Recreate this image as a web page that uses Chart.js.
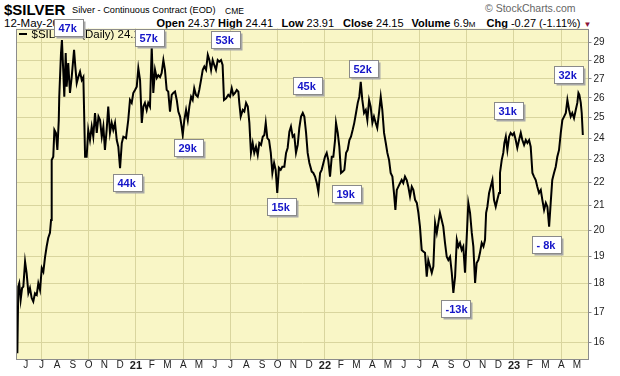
<!DOCTYPE html>
<html>
<head>
<meta charset="UTF-8">
<title>$SILVER</title>
<script src="https://cdn.jsdelivr.net/npm/chart.js"></script>
<style>
	html, body { margin: 0; padding: 0; background: #fff; }
	body { width: 620px; height: 376px; position: relative; overflow: hidden; font-family: "Liberation Sans", Arial, sans-serif; color: #000; }
	.hdr { position: absolute; white-space: nowrap; line-height: 1; z-index: 0; }
	#c { position: absolute; left: 0; top: 0; z-index: 1; }
</style>
</head>
<body>
<div class="hdr" style="left:4px;top:1.5px;font-size:15px;font-weight:bold">$SILVER</div>
<div class="hdr" style="left:72px;top:6px;font-size:9.2px">Silver - Continuous Contract (EOD)</div>
<div class="hdr" style="left:225px;top:7px;font-size:8.5px">CME</div>
<div class="hdr" style="left:485px;top:3px;font-size:10.5px;color:#666">&copy; StockCharts.com</div>
<div class="hdr" style="left:4px;top:17.5px;font-size:11.5px">12-May-2023</div>
<div class="hdr" style="left:156.5px;top:18px;font-size:11px"><b>Open</b> 24.37</div>
<div class="hdr" style="left:218px;top:18px;font-size:11px"><b>High</b> 24.41</div>
<div class="hdr" style="left:281.5px;top:18px;font-size:11px"><b>Low</b> 23.91</div>
<div class="hdr" style="left:343px;top:18px;font-size:11px"><b>Close</b> 24.15</div>
<div class="hdr" style="left:411.5px;top:18px;font-size:11px"><b>Volume</b> 6.9<span style="font-size:8px">M</span></div>
<div class="hdr" style="left:486.5px;top:18px;font-size:11px"><b>Chg</b> -0.27 (-1.11%) <span style="font-size:8px;color:#8b1538">&#9660;</span></div>

<canvas id="c" width="620" height="376" style="width:620px;height:376px"></canvas>

<script>
	// x positions are months counted from 1 Jun 2020 (0 = Jun 2020)
	var monthPos = [
		-0.53,-0.47,-0.41,-0.32,-0.23,-0.15,-0.04,0.06,0.17,0.27,0.38,0.48,0.59,0.70,0.80,0.91,1.02,1.12,1.23,1.33,1.43,1.54,1.61,1.65,1.75,1.82,1.92,2.01,2.10,2.13,2.24,2.30,2.39,2.45,2.54,2.60,2.70,2.81,2.92,3.07,3.15,3.24,3.34,3.45,3.56,3.66,3.77,3.87,3.97,4.08,4.19,4.29,4.40,4.51,4.62,4.72,4.83,4.93,5.03,5.14,5.24,5.35,5.46,5.56,5.67,5.78,5.88,5.99,6.10,6.20,6.37,6.51,6.62,6.73,6.83,6.94,7.05,7.15,7.26,7.37,7.47,7.57,7.68,7.78,7.89,8.00,
		8.10,8.21,8.32,8.42,8.53,8.63,8.74,8.84,8.95,9.05,9.16,9.27,9.37,9.48,9.59,9.69,9.80,9.90,9.97,10.07,10.18,10.29,10.39,10.50,10.60,10.70,10.81,10.92,11.02,11.13,11.24,11.34,11.45,11.56,11.66,11.77,11.87,11.97,12.08,12.19,12.29,12.40,12.50,12.59,12.72,12.86,12.97,13.08,13.18,13.29,13.40,13.50,13.56,13.65,13.78,13.88,13.99,14.10,14.20,14.30,14.41,14.51,14.62,14.73,14.83,14.94,15.05,15.15,15.24,15.34,15.45,15.56,15.66,15.77,15.87,15.97,16.08,16.19,16.29,16.42,16.53,16.63,16.74,16.84,16.95,17.05,17.16,17.27,17.37,17.48,17.59,17.69,17.80,17.90,18.01,
		18.16,18.26,18.37,18.48,18.58,18.69,18.79,18.90,19.00,19.11,19.21,19.32,19.43,19.53,19.64,19.70,19.81,19.91,20.02,20.13,20.23,20.34,20.44,20.55,20.65,20.76,20.86,20.97,21.08,21.18,21.27,21.37,21.48,21.59,21.69,21.80,21.90,22.01,22.11,22.22,22.32,22.43,22.54,22.64,22.75,22.86,22.96,23.07,23.17,23.28,23.38,23.47,23.56,23.66,23.77,23.87,23.97,24.08,24.19,24.29,24.40,24.51,24.61,24.72,24.83,24.93,25.03,25.14,25.24,25.35,25.46,25.56,25.67,25.78,25.88,25.99,26.10,26.20,26.30,26.41,26.51,26.62,26.73,26.83,26.94,27.05,27.15,27.26,
		27.37,27.47,27.57,27.68,27.78,27.89,28.00,28.10,28.21,28.32,28.42,28.53,28.63,28.74,28.84,28.95,29.06,29.16,29.23,29.31,29.42,29.52,29.63,29.73,29.84,29.94,30.05,30.11,30.22,30.32,30.39,30.48,30.58,30.69,30.79,30.90,31.00,31.11,31.21,31.32,31.43,31.53,31.64,31.75,31.85,31.96,32.06,32.17,32.27,32.38,32.48,32.59,32.70,32.80,32.91,33.02,33.12,33.23,33.33,33.43,33.54,33.65,33.75,33.86,33.97,34.07,34.18,34.29,34.39,34.50,34.60,34.70,34.81,34.92,35.02,35.09,35.15,35.24,35.30,35.37
	];

	var silverClose = [
		15.67,17.88,18.0,17.42,17.83,17.88,18.79,18.36,17.65,17.83,17.48,17.36,17.65,17.59,18.0,17.76,18.55,18.42,18.97,19.36,19.69,19.89,20.41,22.98,23.13,24.40,24.25,23.45,24.88,26.06,28.40,29.16,27.31,26.06,28.42,26.58,27.86,26.25,27.09,28.59,27.66,26.77,27.09,27.38,26.93,27.09,23.13,23.13,24.40,23.91,24.56,24.07,25.23,24.25,25.05,24.88,24.07,24.56,23.45,24.40,25.55,24.25,24.74,24.40,24.74,23.91,23.60,22.61,23.77,24.07,24.0,24.88,25.89,25.74,26.25,26.41,26.58,27.57,26.93,24.74,25.55,25.74,25.38,25.74,25.55,28.77,
		26.25,27.48,27.04,27.19,27.09,27.31,28.02,27.48,26.41,26.32,25.30,26.15,26.25,26.32,25.89,25.30,25.05,24.56,24.15,24.88,25.38,24.88,25.55,26.06,25.89,26.50,26.15,26.06,26.41,26.93,27.48,27.66,27.48,28.31,28.02,27.48,28.02,27.75,27.48,28.02,27.93,28.02,27.75,25.89,25.97,26.15,26.06,26.50,26.15,26.25,26.41,26.32,25.74,25.05,25.38,25.30,25.74,25.55,24.74,23.31,23.77,23.31,23.60,23.21,23.77,23.68,24.07,24.15,24.74,24.0,23.91,23.31,22.40,22.85,22.54,21.53,22.63,22.54,22.68,22.68,23.31,23.54,24.31,24.56,24.07,24.15,23.31,23.68,24.49,25.05,25.23,25.05,24.25,23.31,22.85,
		22.46,22.40,22.24,21.96,21.59,22.40,22.54,22.85,23.13,23.31,22.98,22.24,23.13,23.13,23.91,24.74,24.25,23.60,22.40,22.46,22.54,23.31,23.45,23.91,24.07,24.40,24.74,25.23,25.74,26.06,26.84,25.89,25.23,25.38,24.88,25.89,25.55,24.74,25.05,24.74,24.49,25.23,26.06,25.38,24.25,23.77,23.31,22.98,22.40,22.24,21.53,20.82,21.66,21.80,21.96,22.09,21.96,22.24,22.09,21.80,21.38,21.80,21.66,21.24,21.11,20.70,20.14,19.23,19.17,19.12,18.24,18.85,18.61,18.38,18.61,20.29,19.89,20.29,20.70,20.41,20.14,19.50,18.97,18.85,18.97,18.38,17.66,18.24,
		19.62,19.36,19.50,19.23,19.36,18.38,19.75,21.11,20.70,19.89,19.36,18.01,18.74,18.85,19.12,19.50,19.36,19.62,20.70,20.95,21.53,21.80,22.09,21.24,20.95,21.24,21.53,22.40,22.98,23.31,23.77,24.07,23.45,24.07,24.25,24.15,24.25,23.91,23.54,23.91,24.25,23.91,23.68,23.91,23.77,23.91,23.60,22.40,22.24,22.09,21.80,21.53,21.66,21.24,20.82,21.11,20.95,20.14,21.11,22.09,22.40,22.68,23.13,23.45,24.25,24.88,25.05,25.23,25.89,25.38,25.05,25.23,24.97,25.38,25.74,26.25,26.15,25.74,25.23,24.15
	];

	var monthLabels = ['J','J','A','S','O','N','D','21','F','M','A','M','J','J','A','S','O','N','D','22','F','M','A','M','J','J','A','S','O','N','D','23','F','M','A','M'];
	var priceTicks = [16,17,18,19,20,21,22,23,24,25,26,27,28,29];

	// note boxes: text, month of left edge, price at box middle
	var noteText = ['47k','57k','53k','29k','44k','15k','45k','52k','19k','-13k','31k','- 8k','32k'];
	var noteMonth = [1.80, 6.94, 11.75, 9.43, 5.52, 15.34, 16.95, 20.55, 19.43, 26.35, 29.75, 32.17, 33.56];
	var notePrice = [29.86, 29.33, 29.21, 23.56, 21.96, 20.94, 26.63, 27.54, 21.50, 17.11, 25.37, 19.42, 27.21];

	var bgYellow = '#f9f6c6';
	var gridCol = '#d9d59e';

	var points = [];
	for (var i = 0; i < monthPos.length && i < silverClose.length; i++) {
		points.push({ x: monthPos[i], y: silverClose[i] });
	}

	var chartDeco = {
		id: 'chartDeco',
		beforeDraw: function (chart) {
			var a = chart.chartArea, ctx = chart.ctx;
			ctx.save();
			ctx.fillStyle = bgYellow;
			ctx.fillRect(a.left, a.top, a.right - a.left, a.bottom - a.top);
			ctx.restore();
		},
		afterDraw: function (chart) {
			var a = chart.chartArea, ctx = chart.ctx;
			var xs = chart.scales.x, ys = chart.scales.y;
			ctx.save();
			// frame
			ctx.strokeStyle = '#8c8c8c';
			ctx.lineWidth = 1;
			ctx.strokeRect(Math.round(a.left) + 0.5, Math.round(a.top) + 0.5, Math.round(a.right - a.left) - 1, Math.round(a.bottom - a.top) - 1);
			// legend
			ctx.strokeStyle = '#000';
			ctx.lineWidth = 2;
			ctx.beginPath();
			ctx.moveTo(a.left + 3, a.top + 5.5);
			ctx.lineTo(a.left + 11, a.top + 5.5);
			ctx.stroke();
			ctx.fillStyle = '#000';
			ctx.font = '11.5px "Liberation Sans", Arial, sans-serif';
			ctx.textBaseline = 'middle';
			ctx.fillText('$SILVER (Daily) 24.15', a.left + 15.5, a.top + 6);
			// note boxes
			var w = 29, h = 17;
			for (var k = 0; k < noteText.length; k++) {
				var left = Math.round(xs.getPixelForValue(noteMonth[k])) + 0.5;
				var top = Math.round(ys.getPixelForValue(notePrice[k]) - h / 2) + 0.5;
				ctx.fillStyle = '#a8a8a8';
				ctx.fillRect(left + 2, top + 2, w, h);
				ctx.fillStyle = '#fff';
				ctx.fillRect(left, top, w, h);
				ctx.strokeStyle = '#8a8a8a';
				ctx.lineWidth = 1;
				ctx.strokeRect(left, top, w, h);
				ctx.fillStyle = '#1515c8';
				ctx.font = 'bold 11px "Liberation Sans", Arial, sans-serif';
				ctx.textBaseline = 'middle';
				ctx.fillText(noteText[k], left + 4, top + h / 2 + 0.5);
			}
			ctx.restore();
		}
	};

	var chart = new Chart(document.getElementById('c'), {
		type: 'line',
		data: {
			datasets: [{
				label: '$SILVER (Daily)',
				data: points,
				borderColor: '#000',
				borderWidth: 2,
				pointRadius: 0,
				tension: 0,
				fill: false
			}]
		},
		options: {
			responsive: false,
			animation: false,
			devicePixelRatio: 1,
			layout: { padding: { left: 16, top: 28.5, right: 0, bottom: 0 } },
			plugins: { legend: { display: false }, tooltip: { enabled: false } },
			scales: {
				x: {
					type: 'linear',
					min: -0.616,
					max: 35.73,
					afterBuildTicks: function (s) {
						s.ticks = monthLabels.map(function (t, i) { return { value: i }; });
					},
					afterFit: function (s) { s.height = 16.5; },
					grid: {
						color: function (c) { return c.tick && c.tick.value % 3 === 1 ? gridCol : 'rgba(0,0,0,0)'; },
						drawTicks: false
					},
					border: { display: false },
					ticks: {
						autoSkip: false,
						maxRotation: 0,
						padding: 0,
						color: '#222',
						font: function (c) {
							var lab = monthLabels[c.index] || '';
							return { family: '"Liberation Sans", Arial, sans-serif', size: lab.length > 1 ? 11 : 10, weight: lab.length > 1 ? 'bold' : 'normal' };
						},
						callback: function (v, i) { return monthLabels[i]; }
					}
				},
				y: {
					type: 'logarithmic',
					position: 'right',
					min: 15.475,
					max: 29.83,
					afterBuildTicks: function (s) {
						s.ticks = priceTicks.map(function (v) { return { value: v }; });
					},
					afterFit: function (s) { s.width = 31.5; },
					grid: { color: gridCol, tickLength: 3, tickColor: '#8c8c8c' },
					border: { display: false },
					ticks: {
						padding: 2,
						color: '#222',
						font: { family: '"Liberation Sans", Arial, sans-serif', size: 10 },
						callback: function (v) { return String(v); }
					}
				}
			}
		},
		plugins: [chartDeco]
	});
</script>
</body>
</html>
